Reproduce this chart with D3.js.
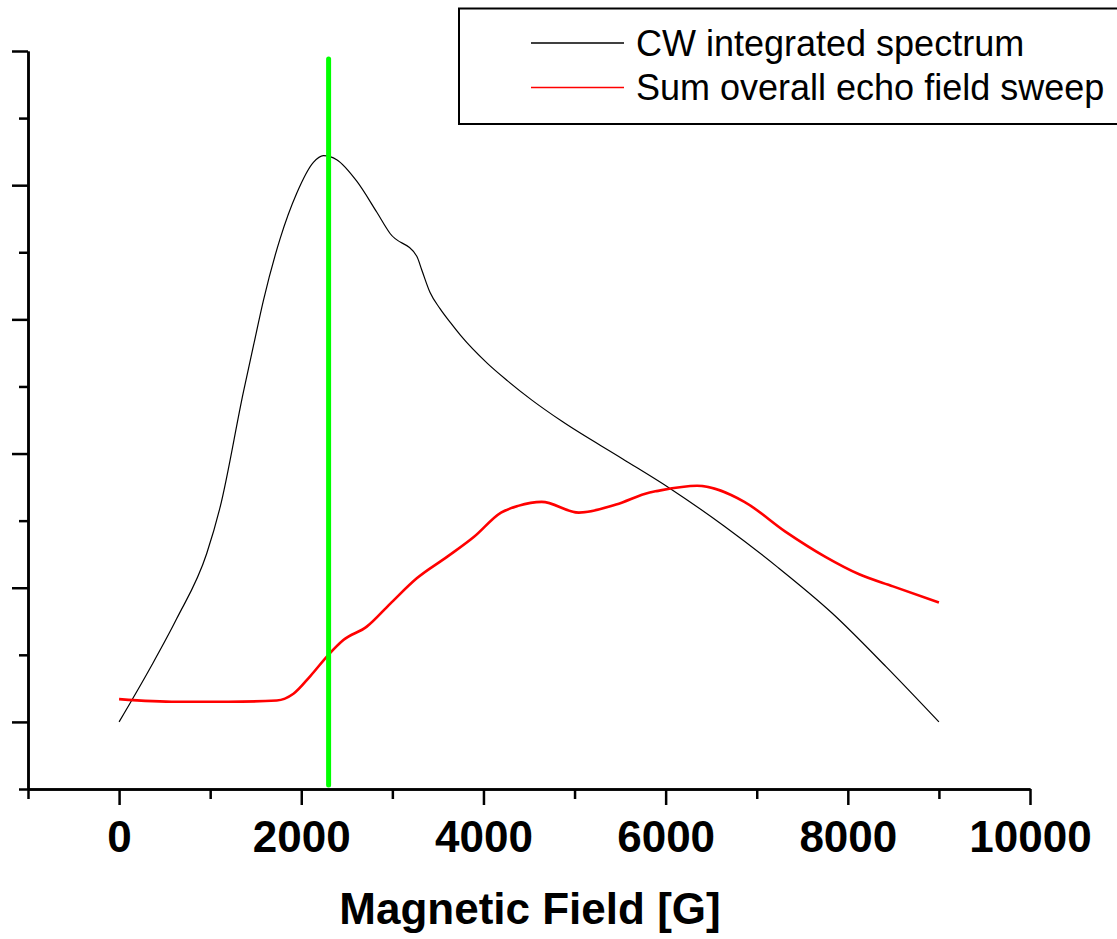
<!DOCTYPE html>
<html>
<head>
<meta charset="utf-8">
<script src="https://cdn.jsdelivr.net/npm/d3@7"></script>
<style>
  html, body { margin: 0; padding: 0; background: #fff; }
  svg { display: block; font-family: Arial, "Liberation Sans", sans-serif; }
</style>
</head>
<body>
<div id="chart"></div>
<script>
// Data
const cwField = [0, 340, 633, 962, 1109, 1365, 1474, 1584, 1767, 1950, 2133, 2243, 2389, 2609, 2828, 2975, 3268, 3322, 3414, 3523, 3638, 3749, 4046, 4268, 4528, 4862, 5529, 6048, 6641, 7235, 7829, 8422, 9000];
const cwValue = [0, 0.40, 0.77, 1.255, 1.60, 2.46, 2.80, 3.14, 3.60, 3.94, 4.17, 4.22, 4.19, 4.03, 3.80, 3.64, 3.47, 3.37, 3.20, 3.08, 2.975, 2.88, 2.67, 2.54, 2.40, 2.24, 1.96, 1.74, 1.46, 1.15, 0.81, 0.41, 0];

const echoField = [0, 633, 1200, 1731, 1914, 2097, 2298, 2462, 2719, 2975, 3268, 3600, 3897, 4193, 4380, 4639, 5047, 5456, 5825, 5900, 6345, 6864, 7310, 7754, 8125, 8496, 9000];
const echoValue = [0.17, 0.15, 0.15, 0.16, 0.21, 0.34, 0.50, 0.61, 0.71, 0.88, 1.07, 1.23, 1.38, 1.56, 1.61, 1.64, 1.56, 1.62, 1.71, 1.72, 1.76, 1.64, 1.42, 1.23, 1.10, 1.01, 0.89];

const markerField = 2300;
const markerRange = [-0.47, 4.94];

const xMajor = [0, 2000, 4000, 6000, 8000, 10000];
const xMinor = [-1000, 1000, 3000, 5000, 7000, 9000];
const yMajor = [0, 1, 2, 3, 4, 5];
const yMinor = [-0.5, 0.5, 1.5, 2.5, 3.5, 4.5];

const legendLabels = ['CW integrated spectrum', 'Sum overall echo field sweep'];
const legendColors = ['#000', '#ff0000'];

// Set up
const width = 1117;
const height = 939;

const x = d3.scaleLinear().domain([-1000, 10000]).range([28, 1030]);
const y = d3.scaleLinear().domain([-0.5, 5]).range([789, 51]);

const svg = d3.select('#chart')
  .append('svg')
  .attr('width', width)
  .attr('height', height);

const line = d3.line()
  .x(d => x(d[0]))
  .y(d => y(d[1]))
  .curve(d3.curveMonotoneX);

// Axes
const xAxis = svg.append('g').attr('transform', `translate(0,${y(-0.5)})`);
xAxis.append('g')
  .call(d3.axisBottom(x).tickValues(xMinor).tickSize(10).tickSizeOuter(0).tickFormat(''));
xAxis.append('g')
  .call(d3.axisBottom(x).tickValues(xMajor).tickSize(16).tickSizeOuter(0).tickPadding(16).tickFormat(d3.format('d')))
  .selectAll('text')
  .attr('font-size', 44)
  .attr('font-weight', 'bold')
  .attr('font-family', 'Arial, "Liberation Sans", sans-serif')
  .attr('fill', '#000');

const yAxis = svg.append('g').attr('transform', `translate(${x(-1000)},0)`);
yAxis.append('g')
  .call(d3.axisLeft(y).tickValues(yMinor).tickSize(9).tickSizeOuter(0).tickFormat(''));
yAxis.append('g')
  .call(d3.axisLeft(y).tickValues(yMajor).tickSize(16).tickSizeOuter(0).tickFormat(''));

svg.selectAll('.domain, .tick line')
  .attr('stroke', '#000')
  .attr('stroke-width', 2.5);

// Axis title
svg.append('text')
  .attr('x', 530)
  .attr('y', 924)
  .attr('text-anchor', 'middle')
  .attr('font-size', 44)
  .attr('font-weight', 'bold')
  .attr('fill', '#000')
  .text('Magnetic Field [G]');

// Curves
svg.append('path')
  .datum(cwField.map((f, i) => [f, cwValue[i]]))
  .attr('d', line)
  .attr('fill', 'none')
  .attr('stroke', '#000')
  .attr('stroke-width', 1.2);

svg.append('path')
  .datum(echoField.map((f, i) => [f, echoValue[i]]))
  .attr('d', line)
  .attr('fill', 'none')
  .attr('stroke', '#ff0000')
  .attr('stroke-width', 2.6);

// Green marker
svg.append('line')
  .attr('x1', x(markerField))
  .attr('x2', x(markerField))
  .attr('y1', y(markerRange[0]))
  .attr('y2', y(markerRange[1]))
  .attr('stroke', '#00ff00')
  .attr('stroke-width', 5)
  .attr('stroke-linecap', 'round');

// Legend
const legend = svg.append('g');
legend.append('rect')
  .attr('x', 459)
  .attr('y', 8.5)
  .attr('width', 700)
  .attr('height', 115.5)
  .attr('fill', '#fff')
  .attr('stroke', '#000')
  .attr('stroke-width', 2);

legendLabels.forEach((label, i) => {
  const ly = 43 + i * 44.5;
  legend.append('line')
    .attr('x1', 531)
    .attr('x2', 624)
    .attr('y1', ly)
    .attr('y2', ly)
    .attr('stroke', legendColors[i])
    .attr('stroke-width', 1.5);
  legend.append('text')
    .attr('x', 636)
    .attr('y', ly + 12.5)
    .attr('font-size', 36)
    .attr('fill', '#000')
    .text(label);
});
</script>
</body>
</html>
